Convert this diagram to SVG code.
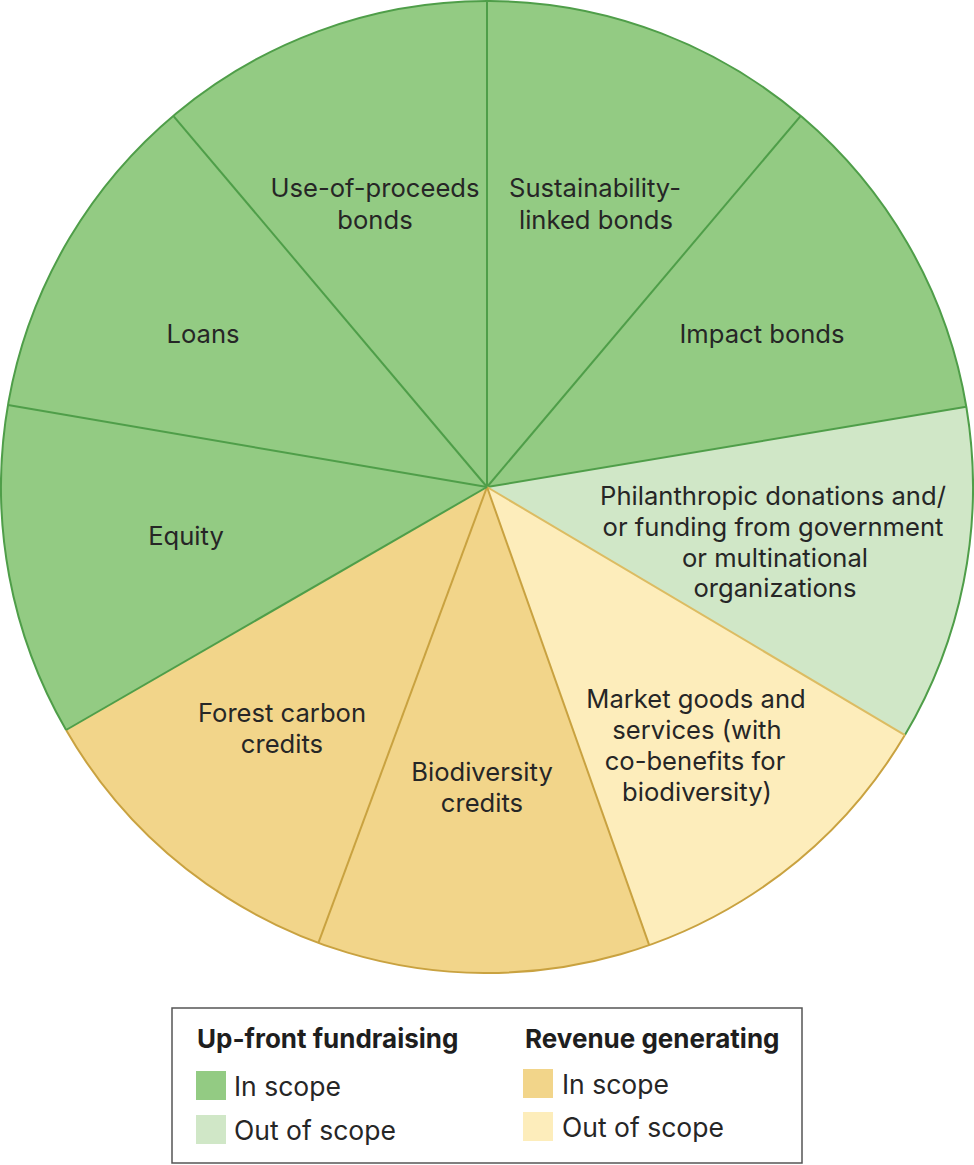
<svg xmlns="http://www.w3.org/2000/svg" width="974" height="1165" viewBox="0 0 974 1165">
<style>
.g{fill:#93cb83}
.lg{fill:#d0e7c7}
.y{fill:#f2d58a}
.ly{fill:#fdedbb}
.lbl{font-family:Inter,"Liberation Sans",sans-serif;font-size:25.6px;fill:#262626;text-anchor:middle}
.leg{font-family:Inter,"Liberation Sans",sans-serif;font-size:26.5px;fill:#262626}
.legh{font-family:Inter,"Liberation Sans",sans-serif;font-size:26px;font-weight:bold;fill:#1e1e1e}
.sg{stroke:#4f9e49;stroke-width:2;fill:none}
.sy{stroke:#c9a240;stroke-width:2;fill:none}
.syl{stroke:#dcbc62;stroke-width:2;fill:none}
</style>
<rect width="974" height="1165" fill="#ffffff"/>
<g id="slice-sustainability">
<path class="g" d="M487 487 L487 1 A486 486 0 0 1 800.7 115.8 Z"/>
<text class="lbl" x="595" y="197">Sustainability-</text>
<text class="lbl" x="596" y="229">linked bonds</text>
</g>
<g id="slice-impact">
<path class="g" d="M487 487 L800.7 115.8 A486 486 0 0 1 966.3 406.8 Z"/>
<text class="lbl" x="762" y="343">Impact bonds</text>
</g>
<g id="slice-philanthropic">
<path class="lg" d="M487 487 L966.3 406.8 A486 486 0 0 1 904.9 735.1 Z"/>
<text class="lbl" x="773" y="505">Philanthropic donations and/</text>
<text class="lbl" x="773" y="536">or funding from government</text>
<text class="lbl" x="775" y="567">or multinational</text>
<text class="lbl" x="775" y="597">organizations</text>
</g>
<g id="slice-market">
<path class="ly" d="M487 487 L904.9 735.1 A486 486 0 0 1 649.2 945.1 Z"/>
<text class="lbl" x="696" y="708">Market goods and</text>
<text class="lbl" x="697" y="739">services (with</text>
<text class="lbl" x="695" y="770">co-benefits for</text>
<text class="lbl" x="697" y="801">biodiversity)</text>
</g>
<g id="slice-biodiversity">
<path class="y" d="M487 487 L649.2 945.1 A486 486 0 0 1 318.4 942.8 Z"/>
<text class="lbl" x="482" y="781">Biodiversity</text>
<text class="lbl" x="482" y="812">credits</text>
</g>
<g id="slice-forest">
<path class="y" d="M487 487 L318.4 942.8 A486 486 0 0 1 66.1 730 Z"/>
<text class="lbl" x="282" y="722">Forest carbon</text>
<text class="lbl" x="282" y="753">credits</text>
</g>
<g id="slice-equity">
<path class="g" d="M487 487 L66.1 730 A486 486 0 0 1 8 405.1 Z"/>
<text class="lbl" x="186" y="545">Equity</text>
</g>
<g id="slice-loans">
<path class="g" d="M487 487 L8 405.1 A486 486 0 0 1 173.3 115.8 Z"/>
<text class="lbl" x="203" y="343">Loans</text>
</g>
<g id="slice-use-of-proceeds">
<path class="g" d="M487 487 L173.3 115.8 A486 486 0 0 1 487 1 Z"/>
<text class="lbl" x="375" y="197">Use-of-proceeds</text>
<text class="lbl" x="375" y="229">bonds</text>
</g>
<g id="connectors">
<path class="sg" d="M66.1 730 A486 486 0 1 1 904.9 735.1"/>
<path class="sy" d="M904.9 735.1 A486 486 0 0 1 66.1 730"/>
<line class="sg" x1="487" y1="487" x2="487" y2="1"/>
<line class="sg" x1="487" y1="487" x2="800.7" y2="115.8"/>
<line class="sg" x1="487" y1="487" x2="966.3" y2="406.8"/>
<line class="syl" x1="487" y1="487" x2="904.9" y2="735.1"/>
<line class="sy" x1="487" y1="487" x2="649.2" y2="945.1"/>
<line class="sy" x1="487" y1="487" x2="318.4" y2="942.8"/>
<line class="sg" x1="487" y1="487" x2="66.1" y2="730"/>
<line class="sg" x1="487" y1="487" x2="8" y2="405.1"/>
<line class="sg" x1="487" y1="487" x2="173.3" y2="115.8"/>
</g>
<g id="legend">
<rect x="172" y="1008" width="630" height="155" fill="#ffffff" stroke="#555555" stroke-width="1.5"/>
<text class="legh" x="197" y="1048">Up-front fundraising</text>
<text class="legh" x="525" y="1048">Revenue generating</text>
<rect class="g" x="196" y="1071" width="30" height="29"/>
<text class="leg" x="234" y="1096">In scope</text>
<rect class="lg" x="196" y="1115" width="30" height="29"/>
<text class="leg" x="234" y="1140">Out of scope</text>
<rect class="y" x="523" y="1069" width="30" height="29"/>
<text class="leg" x="562" y="1094">In scope</text>
<rect class="ly" x="523" y="1112" width="30" height="29"/>
<text class="leg" x="562" y="1137">Out of scope</text>
</g>
</svg>
